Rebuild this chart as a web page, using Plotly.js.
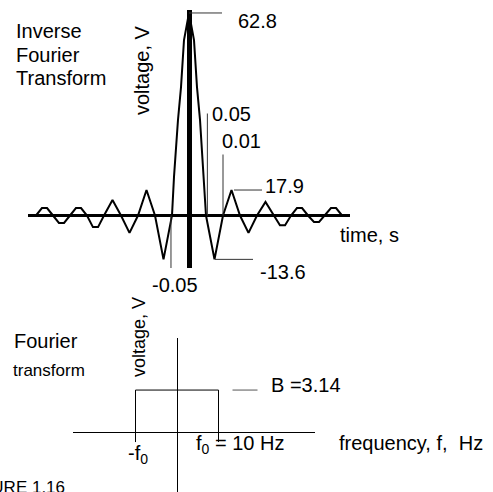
<!DOCTYPE html>
<html>
<head>
<meta charset="utf-8">
<script src="https://cdn.plot.ly/plotly-3.0.1.min.js"></script>
<style>html,body{margin:0;padding:0;background:#fff;}#chart{width:493px;height:492px;}</style>
</head>
<body>
<div id="chart"></div>
<script>
// ---- data: inverse Fourier transform (time domain) ----
const time_s = [-0.4735,-0.45,-0.4325,-0.4175,-0.40,-0.3825,-0.3675,-0.35,-0.3325,-0.3175,-0.30,-0.2825,-0.2675,-0.25,-0.225,-0.20,-0.175,-0.15,-0.125,-0.10,-0.075,-0.05,-0.0441,-0.0324,-0.0235,-0.0147,0,0.0147,0.0235,0.0324,0.0441,0.05,0.075,0.10,0.125,0.15,0.175,0.20,0.225,0.25,0.2675,0.2825,0.30,0.3175,0.3325,0.35,0.3675,0.3825,0.40,0.4175,0.4325,0.45,0.4735];
const voltage_V = [0,0,2.3,2.3,0,-2.3,-2.3,0,2.3,2.3,0,-3.6,-3.6,0,4.8,0,-5.4,0,7.9,0,-13.6,0,12,29.6,39.8,54.4,62.8,54.4,39.8,29.6,12,0,-13.6,0,7.9,0,-5.4,0,4.2,0,-3.0,-3.0,0,2.3,2.3,0,-2.0,-2.0,0,2.3,2.3,0,0];

// labelled points of the time signal
const peakT = 0, peakV = 62.8;
const zero1T = 0.054, zero2T = 0.1, zeroNegT = -0.053;
const lobeT = 0.1265, lobeV = 7.9;
const minT = 0.0765, minV = -13.6;
const valueLabels = ["62.8", "0.05", "0.01", "17.9", "-13.6", "-0.05"];

// ---- data: Fourier transform (rectangle) ----
const f0_Hz = 10;
const B_V = 3.14;
const rectF = [-f0_Hz, -f0_Hz, f0_Hz, f0_Hz];
const rectV = [0, B_V, B_V, 0];

const W = 493, H = 492;
const px = x => x / W;
const py = y => 1 - y / H;
const FONT = "Liberation Sans, Arial, sans-serif";

const traces = [
  {x: time_s, y: voltage_V, type: "scatter", mode: "lines", xaxis: "x", yaxis: "y",
   line: {color: "#000", width: 2}, hoverinfo: "skip"},
  {x: rectF, y: rectV, type: "scatter", mode: "lines", xaxis: "x2", yaxis: "y2",
   line: {color: "#000", width: 1}, hoverinfo: "skip"}
];

const axBase = {showgrid: false, showticklabels: false, ticks: "", showline: false,
  zeroline: true, zerolinecolor: "#000", fixedrange: true};

function txt(text, x, y, size, opts) {
  return Object.assign({text: text, xref: "paper", yref: "paper", x: px(x), y: py(y),
    xanchor: "left", yanchor: "middle", showarrow: false,
    font: {family: FONT, size: size, color: "#000"}}, opts || {});
}

const leader = {color: "#333", width: 1};
const shapes = [
  {type: "line", xref: "x", yref: "y", xsizemode: "pixel", xanchor: peakT, x0: 0, x1: 33, y0: peakV, y1: peakV, line: leader},
  {type: "line", xref: "x", yref: "y", ysizemode: "pixel", yanchor: 0, x0: zero1T, x1: zero1T, y0: 0, y1: 102, line: leader},
  {type: "line", xref: "x", yref: "y", ysizemode: "pixel", yanchor: 0, x0: zero2T, x1: zero2T, y0: 0, y1: 61, line: leader},
  {type: "line", xref: "x", yref: "y", xsizemode: "pixel", xanchor: lobeT, x0: 2, x1: 30, y0: lobeV, y1: lobeV, line: leader},
  {type: "line", xref: "x", yref: "y", xsizemode: "pixel", xanchor: minT, x0: 0, x1: 38, y0: minV, y1: minV, line: leader},
  {type: "line", xref: "x", yref: "y", ysizemode: "pixel", yanchor: 0, x0: zeroNegT, x1: zeroNegT, y0: 0, y1: -53, line: leader},
  {type: "line", xref: "x2", yref: "y2", xsizemode: "pixel", xanchor: f0_Hz, x0: 14, x1: 39, y0: B_V, y1: B_V, line: {color: "#555", width: 1}},
  {type: "line", xref: "x2", yref: "y2", ysizemode: "pixel", yanchor: 0, x0: -f0_Hz, x1: -f0_Hz, y0: 0, y1: -10, line: {color: "#000", width: 1}},
  {type: "line", xref: "x2", yref: "y2", ysizemode: "pixel", yanchor: 0, x0: f0_Hz, x1: f0_Hz, y0: 0, y1: -10, line: {color: "#000", width: 1}}
];

const annotations = [
  txt("Inverse", 14, 31, 20),
  txt("Fourier", 14, 55, 20),
  txt("Transform", 14, 78, 20),
  txt("voltage, V", 141.5, 70.5, 20, {xanchor: "center", textangle: -90}),
  txt(valueLabels[0], 236, 21, 20),
  txt(valueLabels[1], 210, 114, 20),
  txt(valueLabels[2], 220, 141, 20),
  txt(valueLabels[3], 263, 186, 20),
  txt(valueLabels[4], 258, 272, 20),
  txt(valueLabels[5], 150, 285, 20),
  txt("time, s", 338, 235, 20),
  txt("Fourier", 12, 341, 20),
  txt("transform", 11, 370, 17),
  txt("voltage, V", 139, 337, 18, {xanchor: "center", textangle: -90}),
  txt("B =" + B_V, 269, 385, 20),
  txt("f<sub>0</sub> = " + f0_Hz + " Hz", 194, 444, 20),
  txt("-f<sub>0</sub>", 126, 454, 20),
  txt("frequency, f, &nbsp;Hz", 337, 443, 20),
  txt("FIGURE 1.16", 67, 487, 17, {xanchor: "right"})
];

const layout = {
  width: W, height: H,
  margin: {l: 0, r: 0, t: 0, b: 0, pad: 0},
  paper_bgcolor: "#fff", plot_bgcolor: "rgba(0,0,0,0)",
  showlegend: false,
  xaxis: Object.assign({}, axBase, {domain: [px(28), px(350)], range: [-0.4735, 0.4735], zerolinewidth: 5, anchor: "y"}),
  yaxis: Object.assign({}, axBase, {domain: [py(268), py(10)], range: [-16.28, 63.72], zerolinewidth: 3.5, anchor: "x"}),
  xaxis2: Object.assign({}, axBase, {domain: [px(73), px(315)], range: [-25.06, 33.25], zerolinewidth: 1, anchor: "y2"}),
  yaxis2: Object.assign({}, axBase, {domain: [0, py(338)], range: [-4.48, 7.03], zerolinewidth: 1, anchor: "x2"}),
  shapes: shapes,
  annotations: annotations
};

Plotly.newPlot("chart", traces, layout, {staticPlot: true, displayModeBar: false});
</script>
</body>
</html>
